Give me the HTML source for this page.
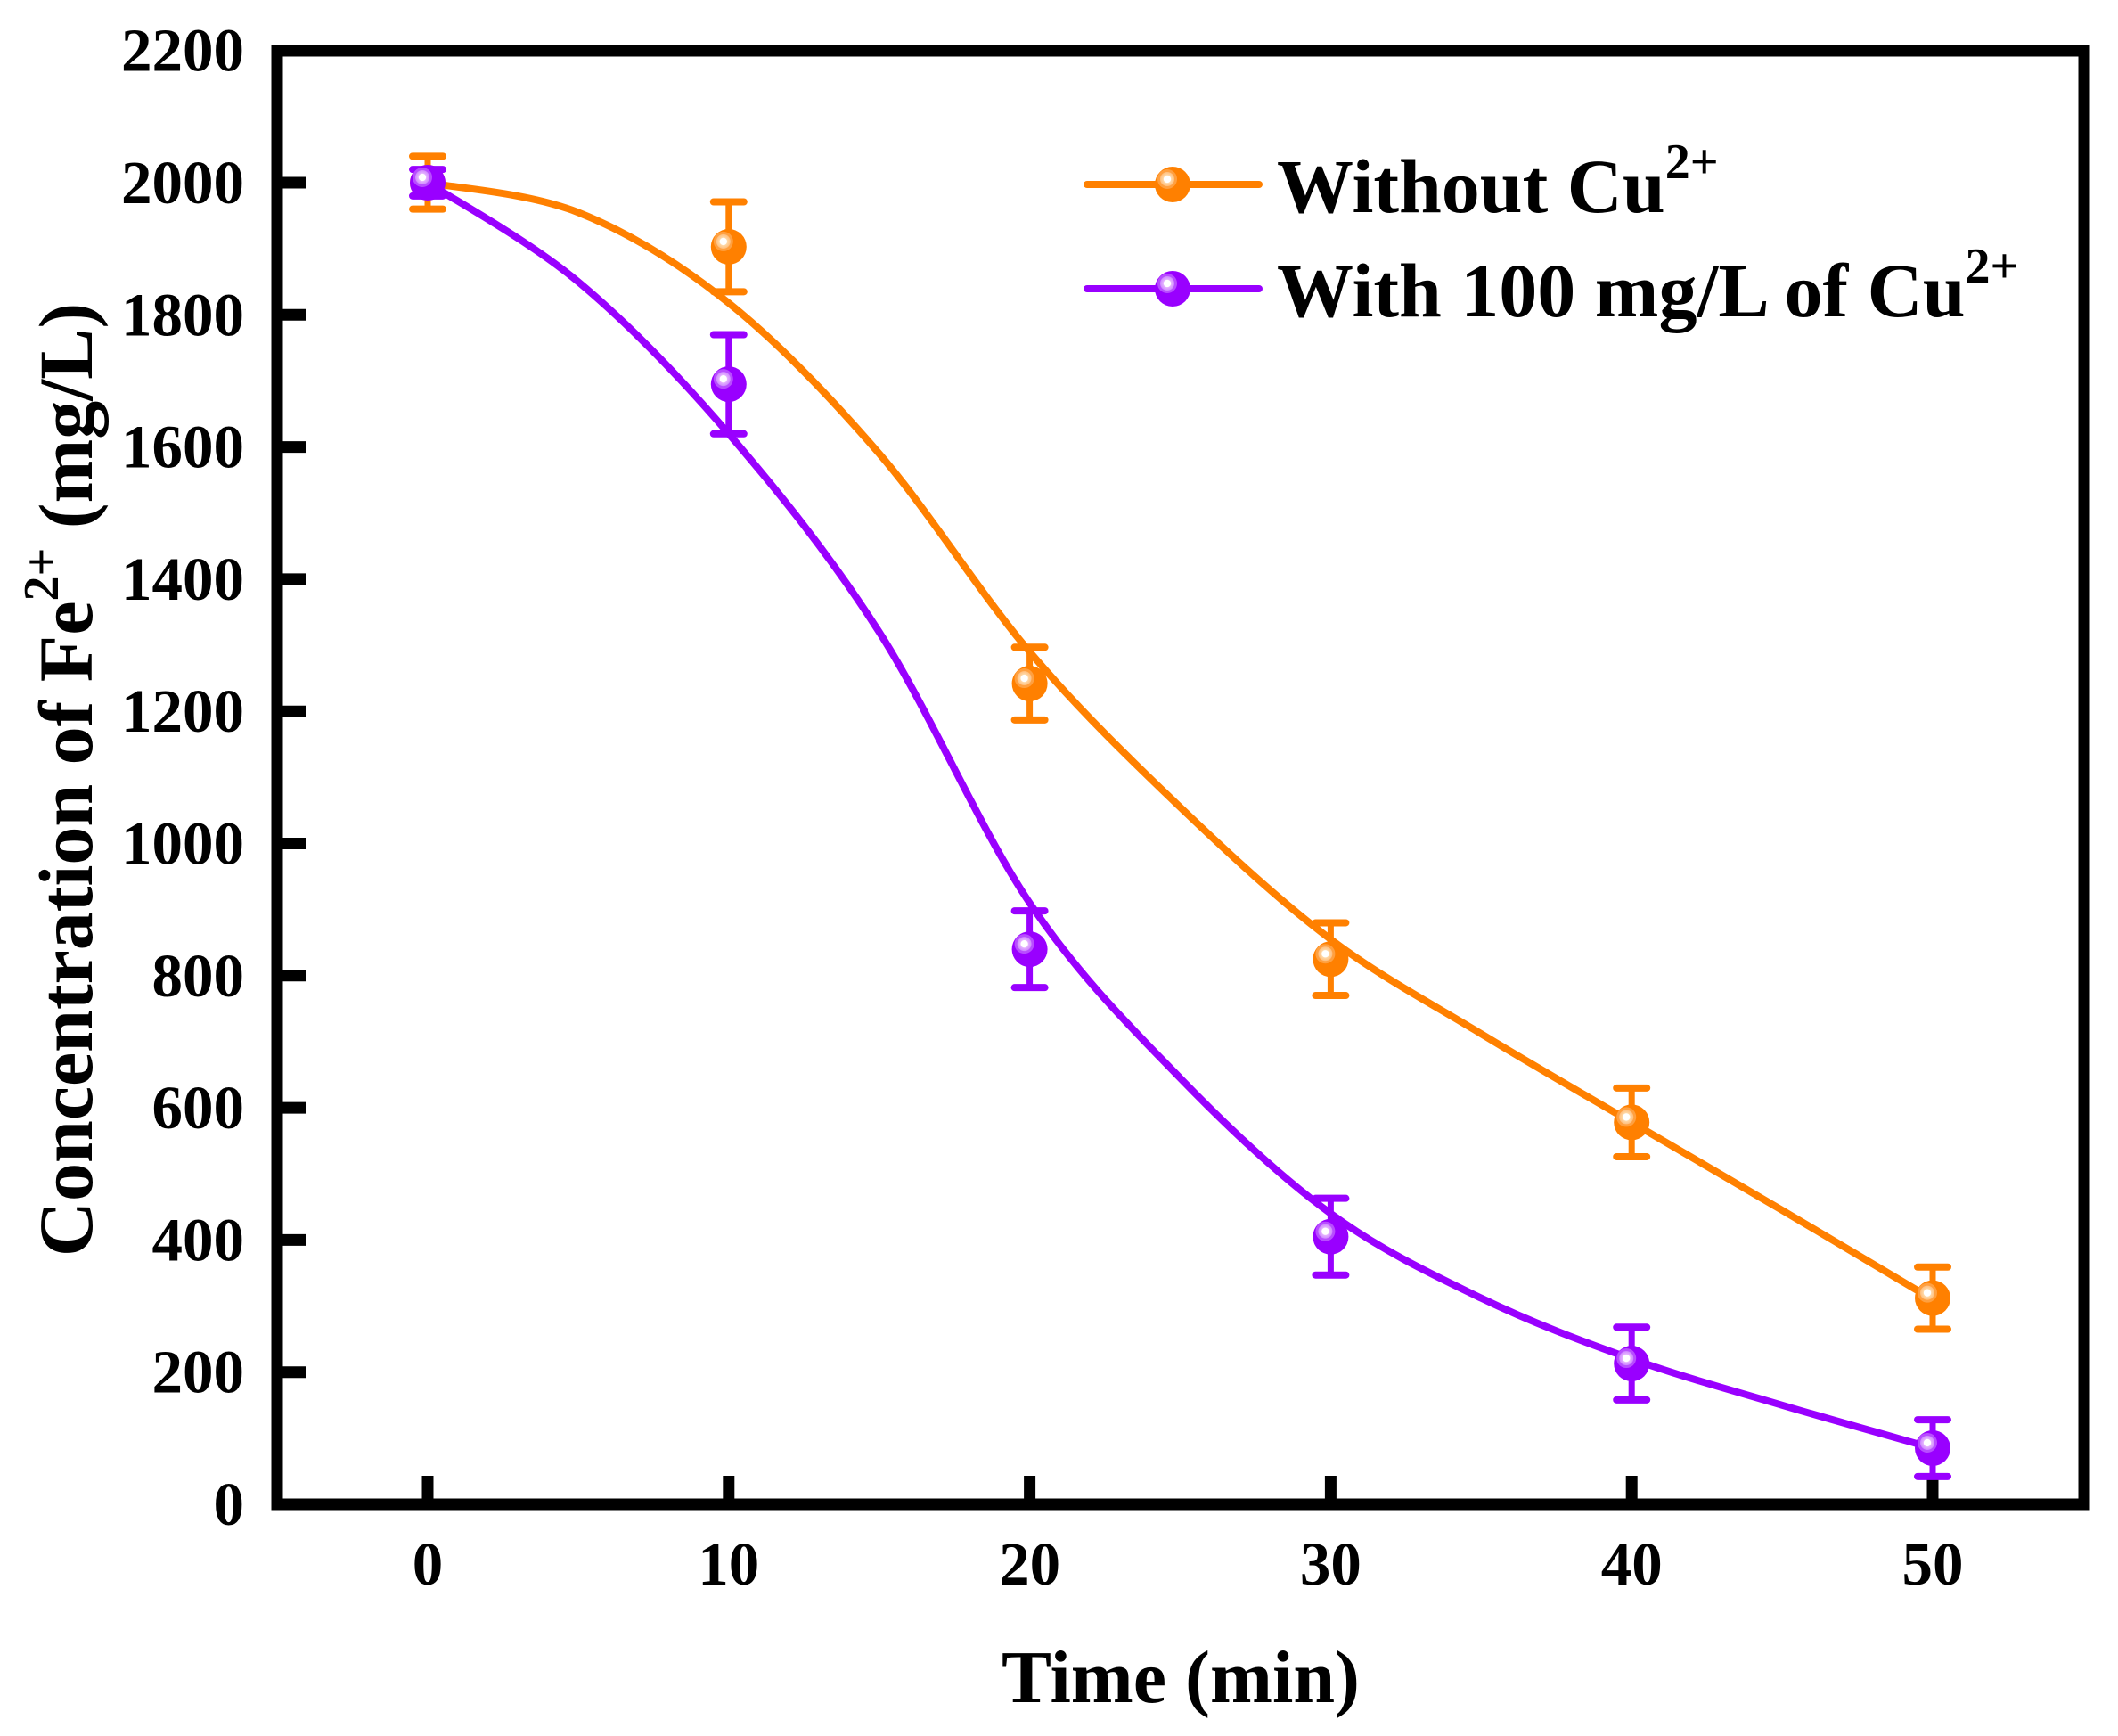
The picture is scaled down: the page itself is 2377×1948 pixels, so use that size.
<!DOCTYPE html>
<html><head><meta charset="utf-8">
<style>
html,body{margin:0;padding:0;background:#fff;}
svg{display:block;}
text{font-family:"Liberation Serif",serif;font-weight:bold;fill:#000;}
</style></head>
<body>
<svg id="chart" width="2377" height="1948" viewBox="0 0 2377 1948" xmlns="http://www.w3.org/2000/svg">
<defs>
<radialGradient id="gO" cx="0.5" cy="0.5" r="0.5"><stop offset="0" stop-color="#fff"/><stop offset="0.35" stop-color="#fff"/><stop offset="0.4" stop-color="#ffd9a8"/><stop offset="0.7" stop-color="#ffc080"/><stop offset="0.75" stop-color="#ffa040"/><stop offset="1" stop-color="#ffa040"/></radialGradient>
<radialGradient id="gP" cx="0.5" cy="0.5" r="0.5"><stop offset="0" stop-color="#fff"/><stop offset="0.35" stop-color="#fff"/><stop offset="0.4" stop-color="#e6b3ff"/><stop offset="0.7" stop-color="#d08cff"/><stop offset="0.75" stop-color="#b84dff"/><stop offset="1" stop-color="#b84dff"/></radialGradient>
</defs>
<g id="plot"></g>
</svg>
<script>
const xTicks=[0,10,20,30,40,50];
const yTicks=[0,200,400,600,800,1000,1200,1400,1600,1800,2000,2200];
const times=[0,10,20,30,40,50];
const withoutCu=[2000,1903,1242,825,578,312];
const withoutCuErr=[40,68,55,55,52,47];
const withCu=[2000,1695,840,405,213,85];
const withCuErr=[20,75,58,58,55,43];
const fitTimes=[0,5,10,15,20,25,30,35,40,45,50];
const withoutCuFit=[2000,1955,1818,1590,1290,1055,855,712,578,445,310];
const withCuFit=[2000,1850,1620,1320,910,645,440,312,220,150,85];

const NS='http://www.w3.org/2000/svg';
const g=document.getElementById('plot');
const X0=480,XS=33.78;
const Y0=1688,YS=0.7415;
function xp(v){return X0+v*XS;}
function yp(v){return Y0-v*YS;}
function mk(tag,attrs,parent){const e=document.createElementNS(NS,tag);for(const k in attrs)e.setAttribute(k,attrs[k]);(parent||g).appendChild(e);return e;}

function smooth(xs,ys){
  const p=xs.map((x,i)=>[xp(x),yp(ys[i])]);
  let d='M'+p[0][0]+','+p[0][1];
  for(let i=0;i<p.length-1;i++){
    const p0=p[i-1]||p[i],p1=p[i],p2=p[i+1],p3=p[i+2]||p[i+1];
    const c1=[p1[0]+(p2[0]-p0[0])/6,p1[1]+(p2[1]-p0[1])/6];
    const c2=[p2[0]-(p3[0]-p1[0])/6,p2[1]-(p3[1]-p1[1])/6];
    d+=' C'+c1[0]+','+c1[1]+' '+c2[0]+','+c2[1]+' '+p2[0]+','+p2[1];
  }
  return d;
}

const frame=mk('rect',{x:311,y:57,width:2028,height:1631,fill:'none',stroke:'#000','stroke-width':13});



xTicks.forEach(t=>{
  const l=mk('line',{x1:xp(t),x2:xp(t),y1:Y0,y2:Y0-32,stroke:'#000','stroke-width':13});
  
  
  const tx=mk('text',{x:xp(t),y:1778,'text-anchor':'middle','font-size':69});
  tx.textContent=t;
  
  
});
yTicks.forEach(t=>{
  if(t>0&&t<2200){
    const l=mk('line',{x1:311,x2:343,y1:yp(t),y2:yp(t),stroke:'#000','stroke-width':13});
    
    
  }
  const tx=mk('text',{x:274,y:yp(t)+23,'text-anchor':'end','font-size':69});
  tx.textContent=t;
  
  
});

function series(name,color,grad,vals,errs,fit){
  const path=mk('path',{d:smooth(fitTimes,fit),fill:'none',stroke:color,'stroke-width':8});
  
  
  times.forEach((t,i)=>{
    const x=xp(t),y=yp(vals[i]),yt=yp(vals[i]+errs[i]),yb=yp(vals[i]-errs[i]);
    const eb=mk('g',{});
    
    
    mk('line',{x1:x,x2:x,y1:yt,y2:yb,stroke:color,'stroke-width':7},eb);
    mk('line',{x1:x-17,x2:x+17,y1:yt,y2:yt,stroke:color,'stroke-width':8,'stroke-linecap':'round'},eb);
    mk('line',{x1:x-17,x2:x+17,y1:yb,y2:yb,stroke:color,'stroke-width':8,'stroke-linecap':'round'},eb);
    const pt=mk('g',{});
    
    
    mk('circle',{cx:x,cy:y,r:20,fill:color},pt);
    mk('circle',{cx:x-6,cy:y-6,r:11,fill:'url(#'+grad+')'},pt);
  });
}
series('without-cu','#ff8000','gO',withoutCu,withoutCuErr,withoutCuFit);
series('with-cu','#9900ff','gP',withCu,withCuErr,withCuFit);

function legend(y,color,grad,label,name){
  const lg=mk('g',{});
  
  
  mk('line',{x1:1220,x2:1413,y1:y,y2:y,stroke:color,'stroke-width':8,'stroke-linecap':'round'},lg);
  mk('circle',{cx:1316,cy:y,r:20,fill:color},lg);
  mk('circle',{cx:1310,cy:y-6,r:11,fill:'url(#'+grad+')'},lg);
  const t=mk('text',{x:1433,y:y+31,'font-size':86},lg);
  t.innerHTML=label+'<tspan dy="-38" font-size="56">2+</tspan>';
}
legend(207,'#ff8000','gO','Without Cu','legend-entry-without-cu');
legend(324,'#9900ff','gP','With 100 mg/L of Cu','legend-entry-with-cu');

const xt=mk('text',{x:1325,y:1910,'text-anchor':'middle','font-size':84});
xt.textContent='Time (min)';


const yt=mk('text',{x:0,y:0,'text-anchor':'middle','font-size':86,transform:'translate(103,875) rotate(-90)'});
yt.innerHTML='Concentration of Fe<tspan dy="-38" font-size="56">2+</tspan><tspan dy="38"> (mg/L)</tspan>';


</script>
</body></html>
